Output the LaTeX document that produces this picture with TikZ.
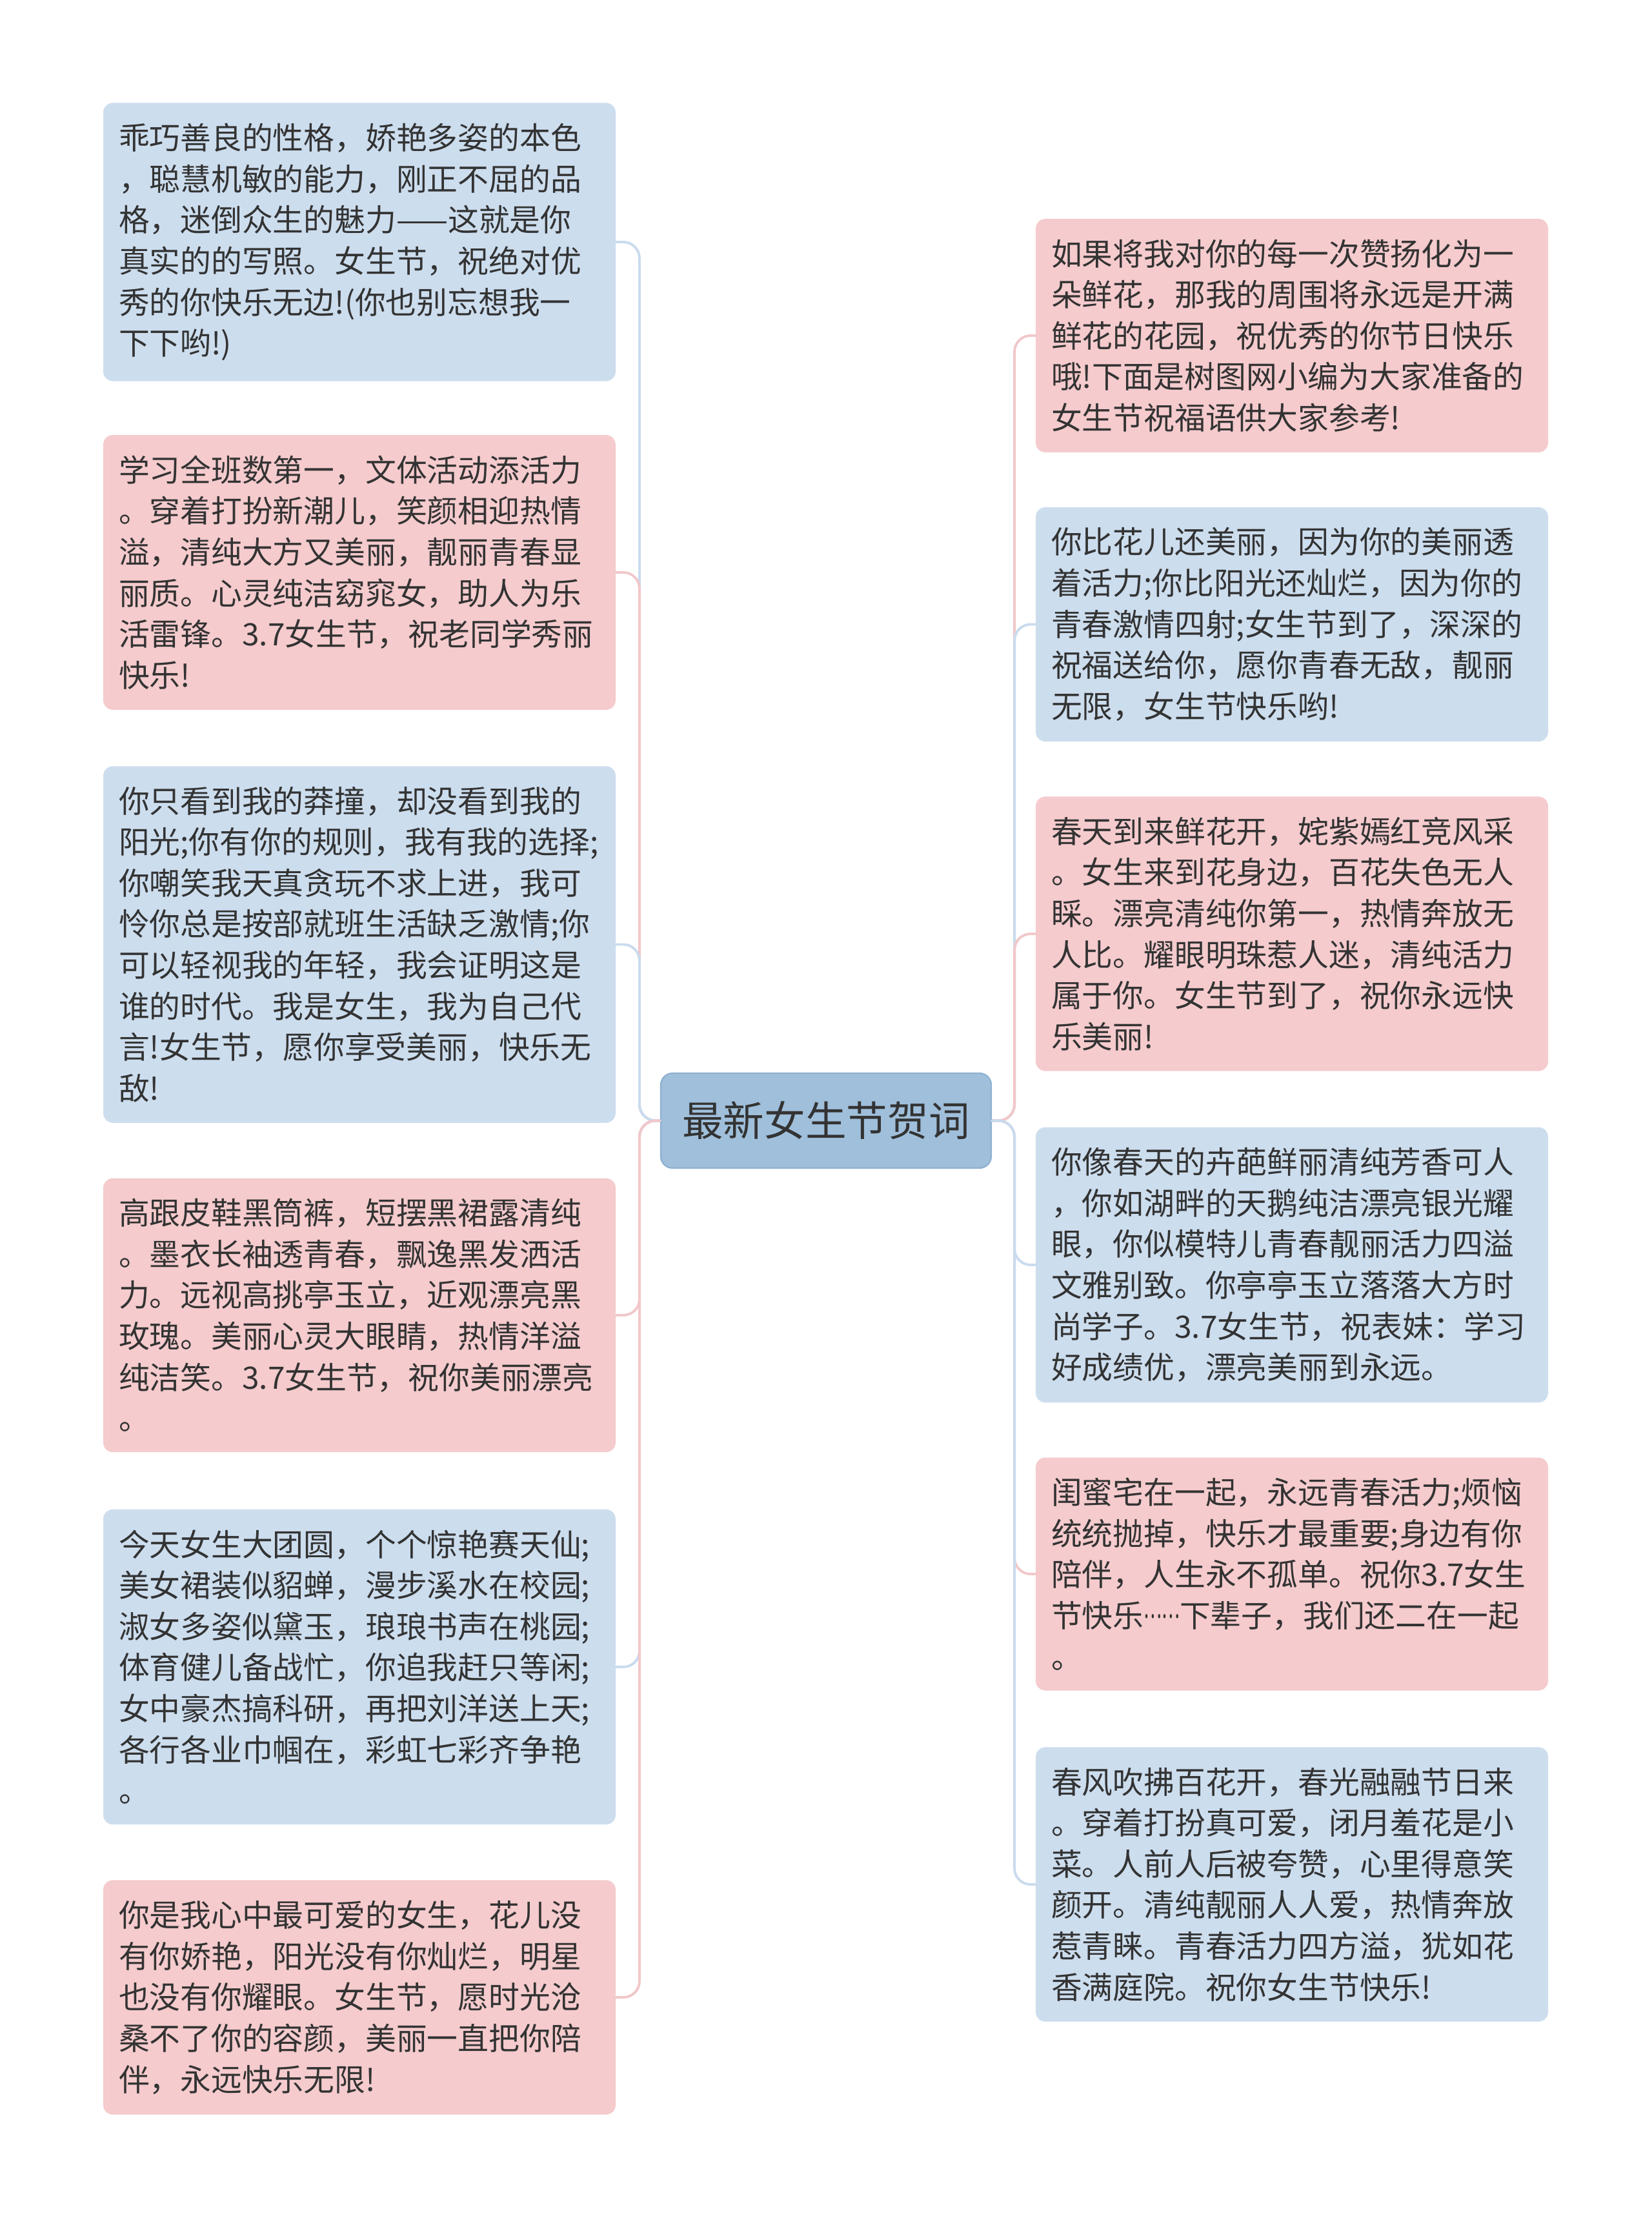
\documentclass[tikz,border=0pt]{standalone}
\usepackage{fontspec}
\usepackage{graphicx}
\setmainfont{Noto Sans CJK SC}
\definecolor{boxblue}{HTML}{CCDDEE}
\definecolor{boxpink}{HTML}{F5CBCD}
\definecolor{hubfill}{HTML}{9FBFDB}
\definecolor{hubline}{HTML}{8DB0D0}
\definecolor{linkblue}{HTML}{C9DBEE}
\definecolor{linkpink}{HTML}{F2C7CA}
\definecolor{inktext}{HTML}{333333}
\newcommand{\shortdots}{\raisebox{0.3em}{\scalebox{0.55}[1]{……}}}
\begin{document}
\begin{tikzpicture}[line join=round,line cap=round,
  textbox/.style={rounded corners=0.15cm,text=inktext,anchor=center,
    text width=7.46cm,align=left,inner xsep=0.24cm,inner ysep=0.315cm,
    font=\fontsize{13.6pt}{18.1pt}\selectfont},
  bluebox/.style={textbox,fill=boxblue},
  pinkbox/.style={textbox,fill=boxpink},
  bluelink/.style={draw=linkblue,line width=1.1pt,rounded corners=0.25cm},
  pinklink/.style={draw=linkpink,line width=1.1pt,rounded corners=0.25cm},
  leftbranch/.style={to path={-- ++(-0.32,0) |- (\tikztotarget)}},
  rightbranch/.style={to path={-- ++(0.35,0) |- (\tikztotarget)}}]
\useasboundingbox[fill=white] (0,0) rectangle (25.6,-34.4);

% centre
\node[rounded corners=0.18cm,fill=hubfill,draw=hubline,line width=0.6pt,
  minimum width=5.12cm,minimum height=1.47cm,text=inktext,
  font=\fontsize{18.1pt}{22pt}\selectfont] (hub) at (12.80,-17.365) {最新女生节贺词};

% left side
\node[bluebox] (l1) at (5.57,-3.75) {乖巧善良的性格，娇艳多姿的本色\\，聪慧机敏的能力，刚正不屈的品\\格，迷倒众生的魅力——这就是你\\真实的的写照。女生节，祝绝对优\\秀的你快乐无边!(你也别忘想我一\\下下哟!)};
\node[pinkbox] (l2) at (5.57,-8.87) {学习全班数第一，文体活动添活力\\。穿着打扮新潮儿，笑颜相迎热情\\溢，清纯大方又美丽，靓丽青春显\\丽质。心灵纯洁窈窕女，助人为乐\\活雷锋。3.7女生节，祝老同学秀丽\\快乐!};
\node[bluebox] (l3) at (5.57,-14.635) {你只看到我的莽撞，却没看到我的\\阳光;你有你的规则，我有我的选择;\\你嘲笑我天真贪玩不求上进，我可\\怜你总是按部就班生活缺乏激情;你\\可以轻视我的年轻，我会证明这是\\谁的时代。我是女生，我为自己代\\言!女生节，愿你享受美丽，快乐无\\敌!};
\node[pinkbox] (l4) at (5.57,-20.38) {高跟皮鞋黑筒裤，短摆黑裙露清纯\\。墨衣长袖透青春，飘逸黑发洒活\\力。远视高挑亭玉立，近观漂亮黑\\玫瑰。美丽心灵大眼睛，热情洋溢\\纯洁笑。3.7女生节，祝你美丽漂亮\\。};
\node[bluebox] (l5) at (5.57,-25.83) {今天女生大团圆，个个惊艳赛天仙;\\美女裙装似貂蝉，漫步溪水在校园;\\淑女多姿似黛玉，琅琅书声在桃园;\\体育健儿备战忙，你追我赶只等闲;\\女中豪杰搞科研，再把刘洋送上天;\\各行各业巾帼在，彩虹七彩齐争艳\\。};
\node[pinkbox] (l6) at (5.57,-30.95) {你是我心中最可爱的女生，花儿没\\有你娇艳，阳光没有你灿烂，明星\\也没有你耀眼。女生节，愿时光沧\\桑不了你的容颜，美丽一直把你陪\\伴，永远快乐无限!};

% right side
\node[pinkbox] (r1) at (20.02,-5.20) {如果将我对你的每一次赞扬化为一\\朵鲜花，那我的周围将永远是开满\\鲜花的花园，祝优秀的你节日快乐\\哦!下面是树图网小编为大家准备的\\女生节祝福语供大家参考!};
\node[bluebox] (r2) at (20.02,-9.675) {你比花儿还美丽，因为你的美丽透\\着活力;你比阳光还灿烂，因为你的\\青春激情四射;女生节到了，深深的\\祝福送给你，愿你青春无敌，靓丽\\无限，女生节快乐哟!};
\node[pinkbox] (r3) at (20.02,-14.47) {春天到来鲜花开，姹紫嫣红竞风采\\。女生来到花身边，百花失色无人\\睬。漂亮清纯你第一，热情奔放无\\人比。耀眼明珠惹人迷，清纯活力\\属于你。女生节到了，祝你永远快\\乐美丽!};
\node[bluebox] (r4) at (20.02,-19.60) {你像春天的卉葩鲜丽清纯芳香可人\\，你如湖畔的天鹅纯洁漂亮银光耀\\眼，你似模特儿青春靓丽活力四溢\\文雅别致。你亭亭玉立落落大方时\\尚学子。3.7女生节，祝表妹：学习\\好成绩优，漂亮美丽到永远。};
\node[pinkbox] (r5) at (20.02,-24.39) {闺蜜宅在一起，永远青春活力;烦恼\\统统抛掉，快乐才最重要;身边有你\\陪伴，人生永不孤单。祝你3.7女生\\节快乐\shortdots 下辈子，我们还二在一起\\。};
\node[bluebox] (r6) at (20.02,-29.20) {春风吹拂百花开，春光融融节日来\\。穿着打扮真可爱，闭月羞花是小\\菜。人前人后被夸赞，心里得意笑\\颜开。清纯靓丽人人爱，热情奔放\\惹青睐。青春活力四方溢，犹如花\\香满庭院。祝你女生节快乐!};

% branches
\draw[bluelink] (hub.west) to[leftbranch] (l1.east);
\draw[pinklink] (hub.west) to[leftbranch] (l2.east);
\draw[bluelink] (hub.west) to[leftbranch] (l3.east);
\draw[pinklink] (hub.west) to[leftbranch] (l4.east);
\draw[bluelink] (hub.west) to[leftbranch] (l5.east);
\draw[pinklink] (hub.west) to[leftbranch] (l6.east);

\draw[pinklink] (hub.east) to[rightbranch] (r1.west);
\draw[bluelink] (hub.east) to[rightbranch] (r2.west);
\draw[pinklink] (hub.east) to[rightbranch] (r3.west);
\draw[bluelink] (hub.east) to[rightbranch] (r4.west);
\draw[pinklink] (hub.east) to[rightbranch] (r5.west);
\draw[bluelink] (hub.east) to[rightbranch] (r6.west);

\end{tikzpicture}
\end{document}
